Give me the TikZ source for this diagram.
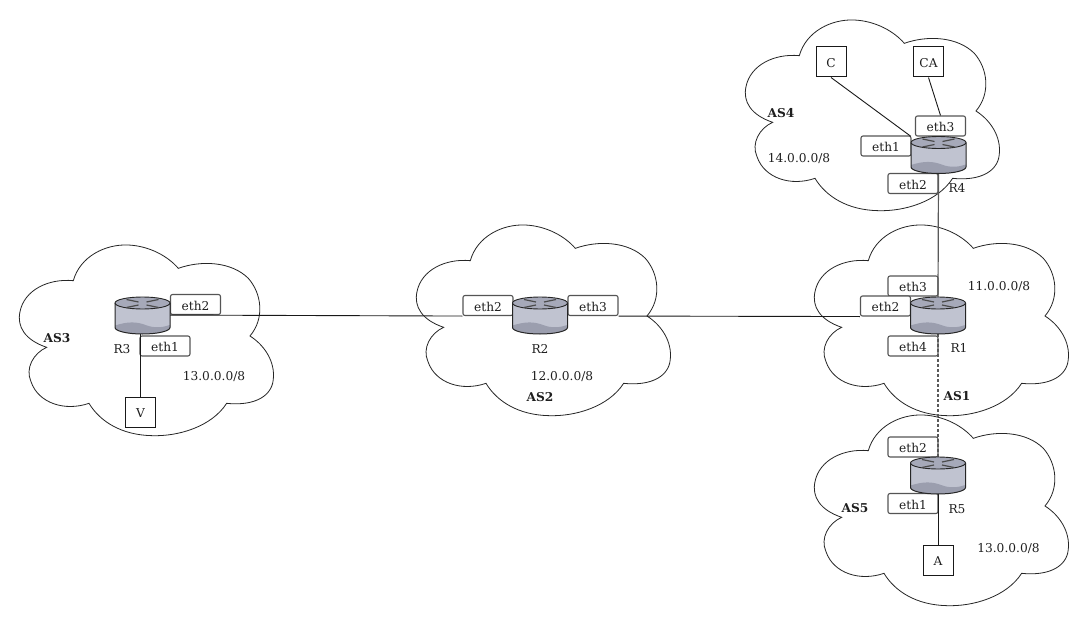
\documentclass[tikz,border=0pt]{standalone}
\usepackage{fontspec}
\setmainfont{DejaVu Serif}
\definecolor{rtop}{HTML}{A6A9B9}
\definecolor{rside}{HTML}{C0C3D0}
\definecolor{rlow}{HTML}{9B9EAE}
\definecolor{boxedge}{HTML}{555555}
\tikzset{
  every node/.style={font=\fontsize{12.2}{14}\selectfont,text=black!88,text height=11pt,text depth=0pt},
  cloudline/.style={draw=black!85,line width=0.8pt},
  ethbox/.style={draw=boxedge,fill=white,line width=1.1pt,rounded corners=2pt,minimum width=50pt,minimum height=20pt,inner sep=0pt},
  hostbox/.style={draw=black!90,fill=white,line width=1pt,minimum width=30pt,minimum height=30pt,inner sep=0pt},
  routernode/.style={minimum width=55pt,minimum height=37pt,inner sep=0pt,draw=none},
  link/.style={draw=black!90,line width=0.9pt},
  graylink/.style={draw=black!65,line width=1.2pt},
  dotlink/.style={draw=black!65,line width=1.2pt,dash pattern=on 3pt off 2pt},
  aslabel/.style={font=\fontsize{12.2}{14}\selectfont\bfseries},
  cloudshape/.pic={
    \draw[cloudline,shift={(-14,-5)},x=0.3333pt,y=-0.3333pt]
      (125,322) .. controls (60,300) and (35,260) .. (45,215)
      .. controls (58,150) and (130,115) .. (205,122)
      .. controls (225,50) and (300,12) .. (370,15)
      .. controls (435,18) and (490,50) .. (520,85)
      .. controls (590,60) and (680,65) .. (730,115)
      .. controls (770,160) and (780,235) .. (735,288)
      .. controls (785,320) and (815,375) .. (803,430)
      .. controls (790,480) and (730,497) .. (665,490)
      .. controls (620,560) and (520,590) .. (440,587)
      .. controls (350,585) and (285,545) .. (252,490)
      .. controls (180,515) and (100,490) .. (78,425)
      .. controls (60,385) and (85,340) .. (125,322) -- cycle;
  },
  routershape/.pic={
    \fill[rside] (-27.5,-12.5) -- (-27.5,12) arc[start angle=180,end angle=0,x radius=27.5,y radius=6.5] -- (27.5,-12.5) -- cycle;
    \fill[rlow] (-27.5,10) .. controls (-15,6) and (-6,6) .. (3,9.5) .. controls (12,13) and (20,12) .. (27.5,9.5) -- (27.5,12) arc[start angle=0,end angle=180,x radius=27.5,y radius=6.5] -- cycle;
    \fill[rtop] (0,-12.5) ellipse[x radius=27.5,y radius=6];
    \draw[black!85,line width=0.9pt] (0,-12.5) ellipse[x radius=27.5,y radius=6];
    \draw[black!85,line width=1pt] (-27.5,-12.5) -- (-27.5,12) arc[start angle=180,end angle=0,x radius=27.5,y radius=6.5] -- (27.5,-12.5);
    \draw[black!70,line width=1.2pt] (-16,-16) -- (-4,-13.5) (-16,-8) -- (-4,-10.5) (16,-16) -- (4,-13.5) (16,-8) -- (4,-10.5);
  }
}
\begin{document}
\begin{tikzpicture}[x=1pt,y=-1pt]
\useasboundingbox (0,0) rectangle (1080,618);
\fill[white] (0,0) rectangle (1080,618);
% clouds
\pic at (19,245) {cloudshape};
\pic at (416,225) {cloudshape};
\pic at (814,225) {cloudshape};
\pic at (745,20) {cloudshape};
\pic at (814,415) {cloudshape};
% router placeholders
\node[routernode] (r1) at (938,315.5) {};
\node[routernode] (r2) at (540,315.5) {};
\node[routernode] (r3) at (142.5,315.5) {};
\node[routernode] (r4) at (938.5,155) {};
\node[routernode] (r5) at (938,475.5) {};
% eth boxes
\node[ethbox] (r3e2) at (195.5,304.5) {eth2};
\node[ethbox] (r3e1) at (165,346) {eth1};
\node[ethbox] (r2e2) at (488,305.5) {eth2};
\node[ethbox] (r2e3) at (593,305.5) {eth3};
\node[ethbox] (r1e3) at (913,286) {eth3};
\node[ethbox] (r1e2) at (885.5,306) {eth2};
\node[ethbox] (r1e4) at (913,346) {eth4};
\node[ethbox] (r4e3) at (940.5,126) {eth3};
\node[ethbox] (r4e1) at (886,146) {eth1};
\node[ethbox] (r4e2) at (913,183.5) {eth2};
\node[ethbox] (r5e2) at (913,447) {eth2};
\node[ethbox] (r5e1) at (913,503.5) {eth1};
% hosts
\node[hostbox] (hv) at (140.5,412) {V};
\node[hostbox] (hc) at (831,62) {C};
\node[hostbox] (hca) at (928.5,62) {CA};
\node[hostbox] (ha) at (938,560) {A};
% connectors
\draw[link] (r3.south -| hv.north) -- (hv.north);
\draw[link] (r3e2.south west) -- (r2e2.south west);
\draw[link] (r2e3.south east) -- (r1e2.south west);
\draw[link] (hc.south) -- (r4.north west);
\draw[link] (hca.south) -- (r4e3.north);
\draw[graylink] (r4.south) -- (r1.north);
\draw[dotlink] (r1.south) -- (r5.north);
\draw[link] (r5.south) -- (ha.north);
% routers
\pic at (r1) {routershape};
\pic at (r2) {routershape};
\pic at (r3) {routershape};
\pic at (r4) {routershape};
\pic at (r5) {routershape};
% labels
\node (tr1) at (959,347) {R1};
\node (tr2) at (540,348) {R2};
\node (tr3) at (122,348) {R3};
\node (tr4) at (957,187) {R4};
\node (tr5) at (957,508) {R5};
\node[aslabel] (as1) at (957,395) {AS1};
\node[aslabel] (as2) at (540,396) {AS2};
\node[aslabel] (as3) at (57,337) {AS3};
\node[aslabel] (as4) at (781,112) {AS4};
\node[aslabel] (as5) at (855,507) {AS5};
\node (n1) at (999,285) {11.0.0.0/8};
\node (n2) at (562,375) {12.0.0.0/8};
\node (n3) at (214,375) {13.0.0.0/8};
\node (n4) at (799,157) {14.0.0.0/8};
\node (n5) at (1008.5,546.5) {13.0.0.0/8};
\end{tikzpicture}
\end{document}
